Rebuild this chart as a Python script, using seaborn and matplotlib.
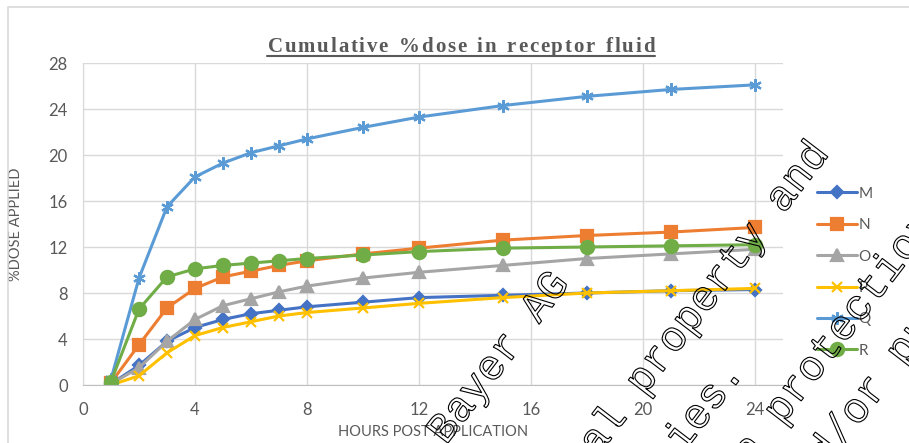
import pandas as pd
import matplotlib
matplotlib.use("Agg")
import matplotlib.pyplot as plt
import seaborn as sns
from matplotlib.ticker import MultipleLocator
from matplotlib.textpath import TextPath, text_to_path
from matplotlib.font_manager import FontProperties
from matplotlib.patches import PathPatch, Rectangle
from matplotlib.transforms import Affine2D, IdentityTransform
from matplotlib.lines import Line2D

# data (% dose applied, cumulative)
hours = [1, 2, 3, 4, 5, 6, 7, 8, 10, 12, 15, 18, 21, 24]
dose_m = [0.1, 1.7, 3.8, 5.0, 5.7, 6.2, 6.5, 6.8, 7.2, 7.6, 7.8, 8.0, 8.2, 8.3]
dose_n = [0.2, 3.5, 6.7, 8.4, 9.4, 9.9, 10.4, 10.8, 11.4, 11.9, 12.6, 13.0, 13.3, 13.7]
dose_o = [0.1, 1.5, 3.8, 5.7, 6.9, 7.5, 8.1, 8.6, 9.3, 9.8, 10.4, 11.0, 11.4, 11.8]
dose_p = [0.0, 0.8, 2.8, 4.3, 5.0, 5.5, 6.0, 6.3, 6.7, 7.1, 7.6, 8.0, 8.2, 8.4]
dose_q = [0.5, 9.3, 15.5, 18.1, 19.3, 20.2, 20.8, 21.4, 22.4, 23.3, 24.3, 25.1, 25.7, 26.1]
dose_r = [0.3, 6.6, 9.4, 10.1, 10.4, 10.6, 10.8, 11.0, 11.3, 11.6, 11.9, 12.0, 12.1, 12.2]

series_names = ["M", "N", "O", "P", "Q", "R"]
series_values = [dose_m, dose_n, dose_o, dose_p, dose_q, dose_r]

colors = ["#4472C4", "#ED7D31", "#A5A5A5", "#FFC000", "#5B9BD5", "#70AD47"]
markers = ["D", "s", "^", "x", (6, 2, 0), "o"]
msizes = [6, 8.5, 8, 7, 9, 9.5]

rows = []
for name, vals in zip(series_names, series_values):
    for h, v in zip(hours, vals):
        rows.append({"hours": h, "dose": v, "series": name})
df = pd.DataFrame(rows)

sns.set_style("white")
plt.rcParams["font.family"] = ["Lato", "DejaVu Sans"]

W, H = 909, 443
fig = plt.figure(figsize=(W / 100, H / 100), dpi=100)
ax = fig.add_axes([83 / W, (H - 385) / H, 700 / W, 322 / H])

for name, c, m, ms in zip(series_names, colors, markers, msizes):
    sub = df[df["series"] == name]
    sns.lineplot(data=sub, x="hours", y="dose", ax=ax, color=c, label=name,
                 marker=m, markersize=ms, markeredgecolor=c, markerfacecolor=c,
                 markeredgewidth=1.6, linewidth=2.2)

ax.set_xlim(0, 25)
ax.set_ylim(0, 28)
ax.set_xticks(range(0, 25, 4))
ax.set_yticks(range(0, 29, 4))
ax.xaxis.set_minor_locator(MultipleLocator(0.8))
ax.yaxis.set_minor_locator(MultipleLocator(0.8))
ax.grid(which="major", color="#d9d9d9", linewidth=1)
ax.set_axisbelow(True)
for s in ["top", "right"]:
    ax.spines[s].set_visible(False)
ax.spines["bottom"].set_color("#bfbfbf")
ax.spines["left"].set_color("#d9d9d9")
ax.tick_params(which="major", length=0, labelsize=12, labelcolor="#595959")
ax.tick_params(axis="x", which="major", pad=12)
ax.tick_params(axis="y", which="major", pad=11)
ax.tick_params(which="minor", length=4, width=0.8, color="#bfbfbf", direction="in")

ax.set_xlabel("HOURS POST APPLICATION", fontsize=10.5, color="#595959")
ax.set_ylabel("%DOSE APPLIED", fontsize=10.5, color="#595959")
ax.xaxis.set_label_coords(0.5, -0.125)
ax.yaxis.set_label_coords(-0.085, 0.5)

leg = ax.legend(loc="center left", bbox_to_anchor=(1.04, 0.35), frameon=False,
                fontsize=11, handlelength=2.6, handletextpad=0.1, labelspacing=1.14,
                borderaxespad=0)
for t in leg.get_texts():
    t.set_color("#595959")

# title: letter spaced (drawn char by char) and underlined
title = "Cumulative %dose in receptor fluid"
title_font = FontProperties(family="Liberation Serif", weight="bold", size=15)
tracking = 1.8   # px between letters
word_gap = 9.0   # px advance of a space
advances = []
for ch in title:
    if ch == " ":
        advances.append(word_gap)
    else:
        w = text_to_path.get_text_width_height_descent(ch, title_font, ismath=False)[0]
        advances.append(w * 100 / 72 + tracking)
total = sum(advances) - tracking
x = 461 - total / 2
for ch, adv in zip(title, advances):
    if ch != " ":
        fig.text(x / W, (H - 52) / H, ch, ha="left", va="baseline",
                 fontproperties=title_font, color="#595959")
    x += adv
fig.add_artist(Line2D([267 / W, 655 / W], [(H - 56) / H] * 2, color="#595959", lw=1.5))

# chart area frame
frame = Rectangle((8, -20), 1200, H - 7 + 20, fill=False, edgecolor="#d9d9d9", lw=1.2)
frame.set_transform(IdentityTransform())
fig.add_artist(frame)

# outlined watermark
wm_font = FontProperties(family="Liberation Mono")
wm_size = 30.6
angle = 52.5


def watermark(text, x, y, align):
    tp = TextPath((0, 0), text, size=wm_size, prop=wm_font)
    width = len(text) * 0.6 * wm_size
    shift = -width if align == "right" else 0
    tr = Affine2D().translate(shift, 0).scale(100 / 72).rotate_deg(angle).translate(x, H - y)
    patch = PathPatch(tr.transform_path(tp), facecolor="none", edgecolor="black", lw=0.8)
    patch.set_transform(IdentityTransform())
    fig.add_artist(patch)


watermark("This document is the property of Bayer AG", 570, 284, "right")
watermark("It may be subject to rights such as intellectual property and", 830, 154, "right")
watermark("copy rights of the owner and third parties.", 745, 373, "right")
watermark("Furthermore, this document may fall under a regulatory data ", 782, 426, "right")
watermark("protection regime.", 782, 426, "left")
watermark("Consequently, any publication, distribution, reproduction and", 842, 448, "right")
watermark("/or publishing and any commercial exploitation", 842, 448, "left")

fig.savefig("out.png", dpi=100)
